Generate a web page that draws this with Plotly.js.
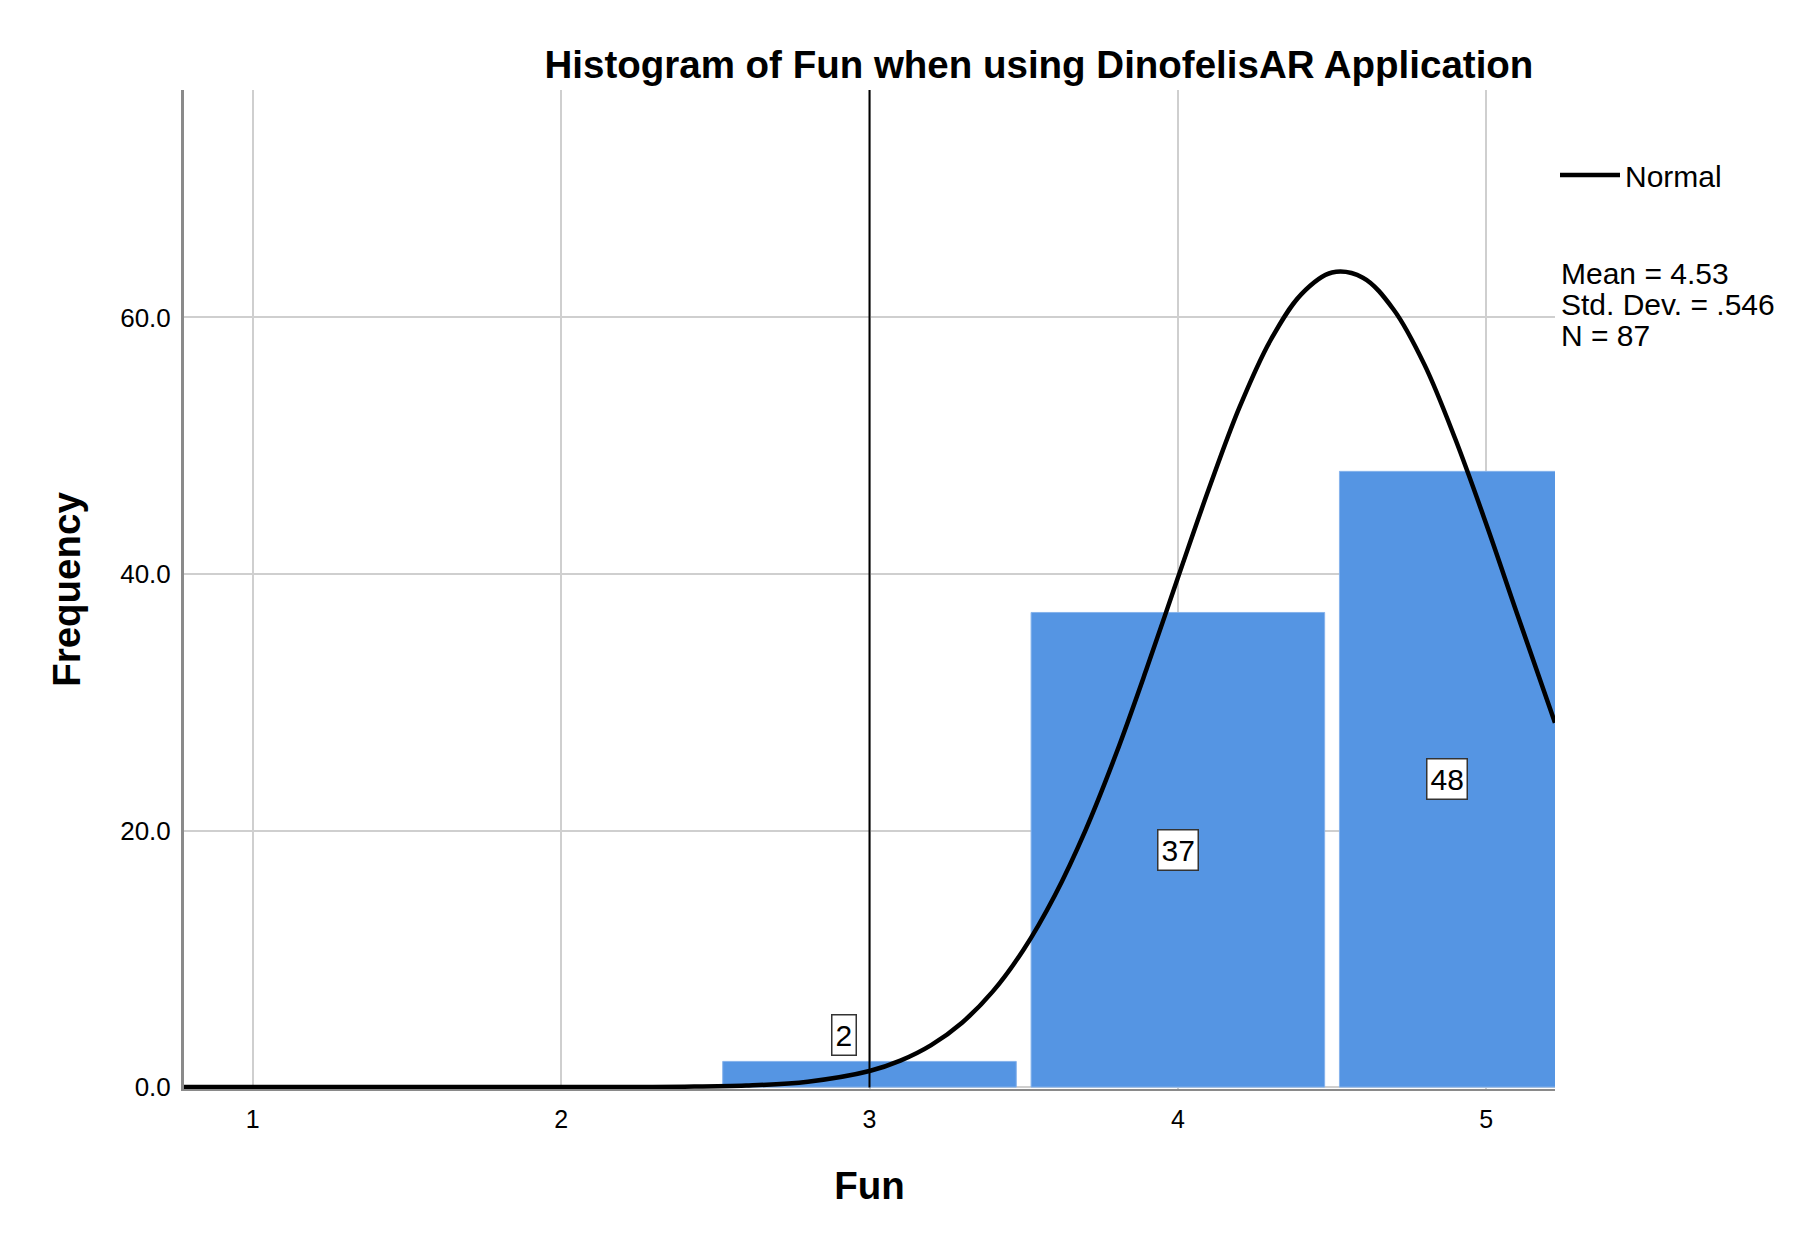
<!DOCTYPE html>
<html>
<head>
<meta charset="utf-8">
<script src="https://cdn.plot.ly/plotly-3.0.1.min.js"></script>
<style>html,body{margin:0;padding:0;background:#fff;}#chart{width:1814px;height:1237px;}</style>
</head>
<body>
<div id="chart"></div>
<script>
// ---- data ----
const categories = [1, 2, 3, 4, 5];
const counts = [0, 0, 2, 37, 48];
const xTickLabels = ['1', '2', '3', '4', '5'];
const yTickValues = [0, 20, 40, 60];
const yTickLabels = ['0.0', '20.0', '40.0', '60.0'];
// Normal curve
const curveX = [0.777, 1.5, 2.0, 2.2, 2.4, 2.6, 2.8, 3.0, 3.1, 3.2, 3.3, 3.4, 3.5, 3.6, 3.7, 3.8, 3.9, 4.0, 4.1, 4.2, 4.3, 4.4, 4.5, 4.6, 4.7, 4.8, 4.9, 5.0, 5.1, 5.223];
const curveY = [0, 0, 0, 0.01, 0.03, 0.12, 0.42, 1.25, 2.06, 3.27, 5.02, 7.46, 10.73, 14.9, 20.0, 26.0, 32.7, 39.7, 46.6, 53.0, 58.2, 61.8, 63.5, 63.1, 60.6, 56.3, 50.5, 43.9, 36.9, 28.4];
const statsLines = ['Mean = 4.53', 'Std. Dev. = .546', 'N = 87'];
const referenceX = 3;

const xRange = [0.777, 5.223];
const yRange = [-0.15, 77.73];
const FONT = 'Liberation Sans, Arial, sans-serif';
const barWidth = 0.952;

const bars = {
  type: 'bar',
  x: categories,
  y: counts,
  width: barWidth,
  marker: {color: '#5595E3', line: {color: '#86B3EC', width: 1}},
  showlegend: false,
  hoverinfo: 'x+y'
};
const curve = {
  type: 'scatter',
  mode: 'lines',
  x: curveX,
  y: curveY,
  name: 'Normal',
  line: {color: '#000', width: 4.5, shape: 'spline', smoothing: 1},
  showlegend: true
};

// bar labels: small bars get their label above, others in the middle of the visible bar
const annotations = [];
categories.forEach((c, i) => {
  const v = counts[i];
  if (v <= 0) return;
  const lo = Math.max(c - barWidth / 2, xRange[0]);
  const hi = Math.min(c + barWidth / 2, xRange[1]);
  let ax, ay;
  if (v < 5) { ax = c - 0.083; ay = v + 2.03; }
  else { ax = (lo + hi) / 2; ay = v / 2; }
  annotations.push({
    x: ax, y: ay, xref: 'x', yref: 'y', text: String(v), showarrow: false,
    font: {family: FONT, size: 30, color: '#000'},
    bgcolor: '#fff', bordercolor: '#333', borderwidth: 1.5, borderpad: 3
  });
});
const statsY = [0.8168, 0.7848, 0.7547];
statsLines.forEach((t, i) => {
  annotations.push({
    x: 1.0032, y: statsY[i], xref: 'paper', yref: 'paper', xanchor: 'left', yanchor: 'middle',
    text: t, showarrow: false, font: {family: FONT, size: 30, color: '#000'}
  });
});

const layout = {
  width: 1814, height: 1237,
  margin: {l: 184, r: 259, t: 90, b: 148, pad: 0},
  paper_bgcolor: '#fff', plot_bgcolor: '#fff',
  font: {family: FONT, color: '#000'},
  title: {
    text: 'Histogram of Fun when using DinofelisAR Application',
    font: {family: FONT, size: 38.5, color: '#000', weight: 'bold'},
    x: 0.6236, xref: 'paper', xanchor: 'center',
    y: 1 - 65 / 1237, yref: 'container', yanchor: 'middle'
  },
  xaxis: {
    range: xRange,
    tickvals: categories, ticktext: xTickLabels,
    showgrid: true, gridcolor: '#cfcfcf', gridwidth: 2,
    zeroline: false, showline: true, linecolor: '#8a8a8a', linewidth: 2,
    ticks: '', ticklabelstandoff: 7,
    tickfont: {family: FONT, size: 25, color: '#000'},
    title: {text: 'Fun', font: {family: FONT, size: 38.5, color: '#000', weight: 'bold'}, standoff: 40}
  },
  yaxis: {
    range: yRange,
    tickvals: yTickValues, ticktext: yTickLabels,
    showgrid: true, gridcolor: '#cfcfcf', gridwidth: 2,
    zeroline: false, showline: true, linecolor: '#8a8a8a', linewidth: 3,
    ticks: '', ticklabelstandoff: 5,
    tickfont: {family: FONT, size: 26, color: '#000'},
    title: {text: 'Frequency', font: {family: FONT, size: 38.5, color: '#000', weight: 'bold'}, standoff: 28}
  },
  bargap: 0,
  showlegend: true,
  legend: {
    x: 1.0, y: 0.915, xanchor: 'left', yanchor: 'middle',
    font: {family: FONT, size: 30, color: '#000'},
    bgcolor: 'rgba(0,0,0,0)', borderwidth: 0, itemwidth: 60
  },
  shapes: [{
    type: 'line', xref: 'x', yref: 'paper', x0: referenceX, x1: referenceX, y0: 0.0015, y1: 1,
    line: {color: '#000', width: 2}, layer: 'above'
  }],
  annotations: annotations
};

Plotly.newPlot('chart', [bars, curve], layout, {displayModeBar: false, staticPlot: true});
</script>
</body>
</html>
